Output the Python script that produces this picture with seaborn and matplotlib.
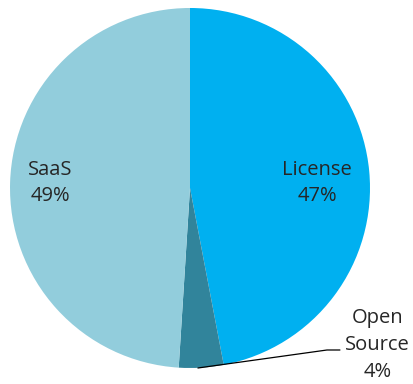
import matplotlib
matplotlib.use("Agg")
import matplotlib.pyplot as plt
import seaborn as sns

# Revenue split by delivery model
categories = ["License", "Open\nSource", "SaaS"]
shares = [47, 4, 49]
colors = ["#00B0F0", "#31849B", "#92CDDC"]

sns.set_theme(style="white")
plt.rcParams["font.family"] = ["Open Sans", "DejaVu Sans"]

fig = plt.figure(figsize=(4.13, 3.84), dpi=100)
ax = fig.add_axes([0, 0, 1, 1])
ax.pie(shares, colors=sns.color_palette(colors), startangle=90,
       counterclock=False, radius=1.0, center=(0, 0),
       wedgeprops=dict(linewidth=0))
ax.set_xlim(-1.0556, 1.2389)
ax.set_ylim(-1.0889, 1.0444)
ax.set_aspect("auto")
ax.axis("off")

label_pos = {
    "License": (0.706, 0.028),
    "SaaS": (-0.778, 0.028),
    "Open\nSource": (1.042, -0.872),
}
for cat, val in zip(categories, shares):
    x, y = label_pos[cat]
    ax.text(x, y, f"{cat}\n{val}%", ha="center", va="center",
            fontsize=14.5, color="#262626", linespacing=1.45)

# Leader line for the small slice
ax.plot([0.044, 0.761, 0.833], [-1.0, -0.9, -0.9], color="black", lw=0.9)

fig.savefig("out.png", dpi=100)
